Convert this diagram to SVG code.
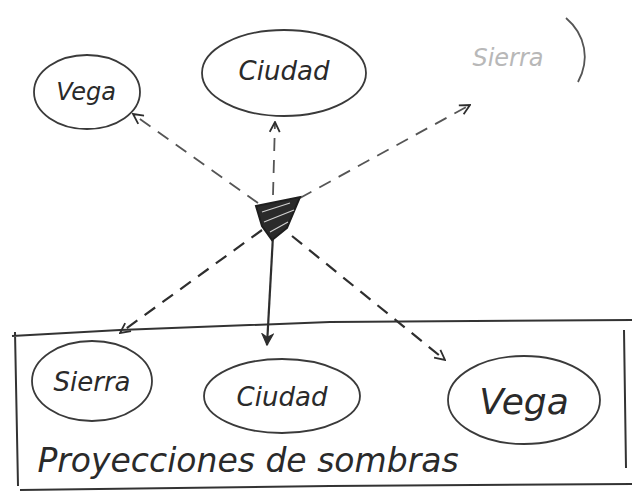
<svg xmlns="http://www.w3.org/2000/svg" width="636" height="500" viewBox="0 0 636 500">
<style>
.bg{fill:#ffffff}
.node ellipse{fill:none;stroke:#3a3a3a;stroke-width:1.8}
.lbl{font-family:"DejaVu Sans","Liberation Sans",sans-serif;font-style:italic;fill:#2a2a2a;text-anchor:middle}
.conn line{stroke:#2e2e2e;stroke-width:2.2;stroke-dasharray:13 9;fill:none}
.conn .light{stroke:#555;stroke-width:1.8}
.box{fill:none;stroke:#333;stroke-width:2}
</style>
<defs>
<marker id="arr" viewBox="0 0 12 12" refX="11" refY="6" markerWidth="12" markerHeight="12" markerUnits="userSpaceOnUse" orient="auto">
<polyline points="1,1 11,6 1,11" fill="none" stroke="#2e2e2e" stroke-width="1.8"/>
</marker>
<marker id="arrf" viewBox="0 0 12 12" refX="11" refY="6" markerWidth="13" markerHeight="13" markerUnits="userSpaceOnUse" orient="auto">
<polygon points="1,1 11,6 1,11 4,6" fill="#2e2e2e" stroke="#2e2e2e" stroke-width="1.2"/>
</marker>
</defs>
<rect class="bg" x="0" y="0" width="636" height="500"/>

<g id="frame">
<path class="box" d="M12,336 L120,330 L330,322 L632,320 M15,332 L18,486 M20,490 L330,486 L632,484 M624,330 L626,468"/>
</g>

<g id="connectors" class="conn">
<line class="light" x1="258" y1="203" x2="133" y2="114" marker-end="url(#arr)"/>
<line class="light" x1="273" y1="195" x2="275" y2="122" marker-end="url(#arr)"/>
<line class="light" x1="300" y1="198" x2="470" y2="105" marker-end="url(#arr)"/>
<line x1="262" y1="230" x2="120" y2="333" marker-end="url(#arr)"/>
<line x1="273" y1="236" x2="267" y2="345" style="stroke-dasharray:none" marker-end="url(#arrf)"/>
<line x1="292" y1="236" x2="445" y2="360" marker-end="url(#arr)"/>
</g>

<g id="sombra">
<polygon points="256,206 300,197 287,228 272,240 262,226" fill="#2a2a2a" stroke="#1e1e1e" stroke-width="2"/>
<path d="M262,212 L290,203 M264,222 L294,210 M270,232 L288,222" stroke="#cfcfcf" stroke-width="1.2"/>
</g>

<g id="vega-top" class="node">
<ellipse cx="87" cy="92" rx="53" ry="37"/>
<text class="lbl" x="86" y="100" font-size="24">Vega</text>
</g>

<g id="ciudad-top" class="node">
<ellipse cx="284" cy="73" rx="82" ry="43"/>
<text class="lbl" x="284" y="80" font-size="26">Ciudad</text>
</g>

<g id="sierra-top" class="node">
<path d="M566,18 C586,35 590,60 578,82" fill="none" stroke="#555" stroke-width="1.8"/>
<text class="lbl" x="508" y="66" font-size="24" style="fill:#b8b8b8">Sierra</text>
</g>

<g id="sierra-bottom" class="node">
<ellipse cx="92" cy="381" rx="60" ry="40"/>
<text class="lbl" x="92" y="391" font-size="26">Sierra</text>
</g>

<g id="ciudad-bottom" class="node">
<ellipse cx="282" cy="396" rx="78" ry="37"/>
<text class="lbl" x="282" y="406" font-size="26">Ciudad</text>
</g>

<g id="vega-bottom" class="node">
<ellipse cx="524" cy="400" rx="76" ry="44"/>
<text class="lbl" x="524" y="414" font-size="36">Vega</text>
</g>

<text class="lbl" x="248" y="472" font-size="33">Proyecciones de sombras</text>
</svg>
